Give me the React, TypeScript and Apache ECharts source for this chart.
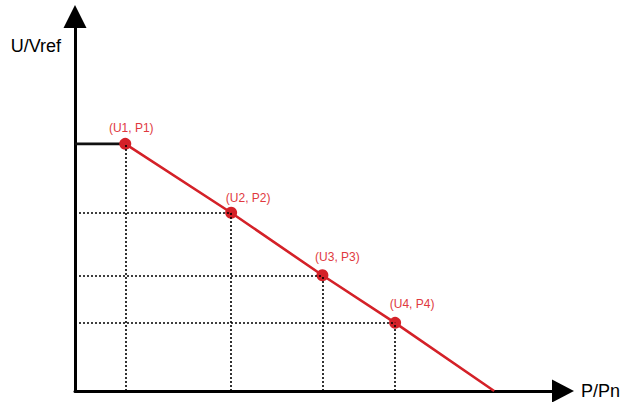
import React, { useEffect, useRef } from "react";
import * as echarts from "echarts";

// Curve points (P/Pn in %, U/Vref in %)
const pointLabels = ["(U1, P1)", "(U2, P2)", "(U3, P3)", "(U4, P4)"];
const pValues = [10.3, 32.0, 50.7, 65.6];
const uValues = [66.0, 47.6, 30.9, 18.2];
// where the droop line reaches U = 0
const pEnd = 85.9;
const uEnd = 0;
const axisMax = 100;

// label placement (styling only)
const labelOffsets = [
  [6, -16],
  [17, -15],
  [15, -18],
  [17, -18.5],
];

const RED = "#d42128";
const LABEL_RED = "#e0393e";
const FONT = "Liberation Sans, Arial, sans-serif";

export default function App() {
  const ref = useRef<HTMLDivElement>(null);

  useEffect(() => {
    if (!ref.current) return;
    const chart = echarts.init(ref.current, null, { renderer: "svg" });

    const redData: any[] = pValues.map((p, i) => ({
      value: [p, uValues[i]],
      label: {
        show: true,
        formatter: pointLabels[i],
        offset: labelOffsets[i],
      },
    }));
    redData.push({ value: [pEnd, uEnd], symbol: "none", label: { show: false } });

    const guideLines: any[] = [];
    pValues.forEach((p, i) => {
      guideLines.push([{ coord: [p, 0] }, { coord: [p, uValues[i]] }]);
      if (i > 0) guideLines.push([{ coord: [0, uValues[i]] }, { coord: [p, uValues[i]] }]);
    });

    chart.setOption({
      animation: false,
      backgroundColor: "#ffffff",
      grid: { left: 75, right: 59, top: 16.5, bottom: 11, containLabel: false },
      xAxis: {
        type: "value",
        min: 0,
        max: axisMax,
        name: "P/Pn",
        nameLocation: "end",
        nameGap: 18,
        nameTextStyle: { fontSize: 18, color: "#000", fontFamily: FONT },
        axisLine: {
          show: true,
          symbol: ["none", "triangle"],
          symbolSize: [23, 22],
          lineStyle: { color: "#000", width: 3 },
        },
        axisTick: { show: false },
        axisLabel: { show: false },
        splitLine: { show: false },
      },
      yAxis: {
        type: "value",
        min: 0,
        max: axisMax,
        name: "U/Vref",
        nameLocation: "end",
        nameGap: -29,
        nameTextStyle: {
          fontSize: 18,
          color: "#000",
          fontFamily: FONT,
          align: "right",
          verticalAlign: "middle",
          padding: [0, 14, 0, 0],
        },
        axisLine: {
          show: true,
          symbol: ["none", "triangle"],
          symbolSize: [23, 23],
          lineStyle: { color: "#000", width: 3 },
        },
        axisTick: { show: false },
        axisLabel: { show: false },
        splitLine: { show: false },
      },
      series: [
        {
          type: "line",
          z: 1,
          data: [],
          symbol: "none",
          markLine: {
            silent: true,
            symbol: ["none", "none"],
            label: { show: false },
            lineStyle: { color: "#000", width: 1.6, type: [2, 2] },
            data: guideLines,
          },
        },
        {
          type: "line",
          z: 2,
          data: [
            [0, uValues[0]],
            [pValues[0], uValues[0]],
          ],
          symbol: "none",
          lineStyle: { color: "#111", width: 2.6 },
        },
        {
          type: "line",
          z: 3,
          data: redData,
          symbol: "circle",
          symbolSize: 12,
          itemStyle: { color: RED },
          lineStyle: { color: RED, width: 2.6 },
          label: {
            show: true,
            position: "inside",
            align: "center",
            verticalAlign: "middle",
            color: LABEL_RED,
            fontSize: 12,
            fontFamily: FONT,
          },
        },
      ],
    });

    return () => chart.dispose();
  }, []);

  return (
    <div
      ref={ref}
      style={{ position: "absolute", left: 0, top: 0, width: 623, height: 402, background: "#fff" }}
    />
  );
}
